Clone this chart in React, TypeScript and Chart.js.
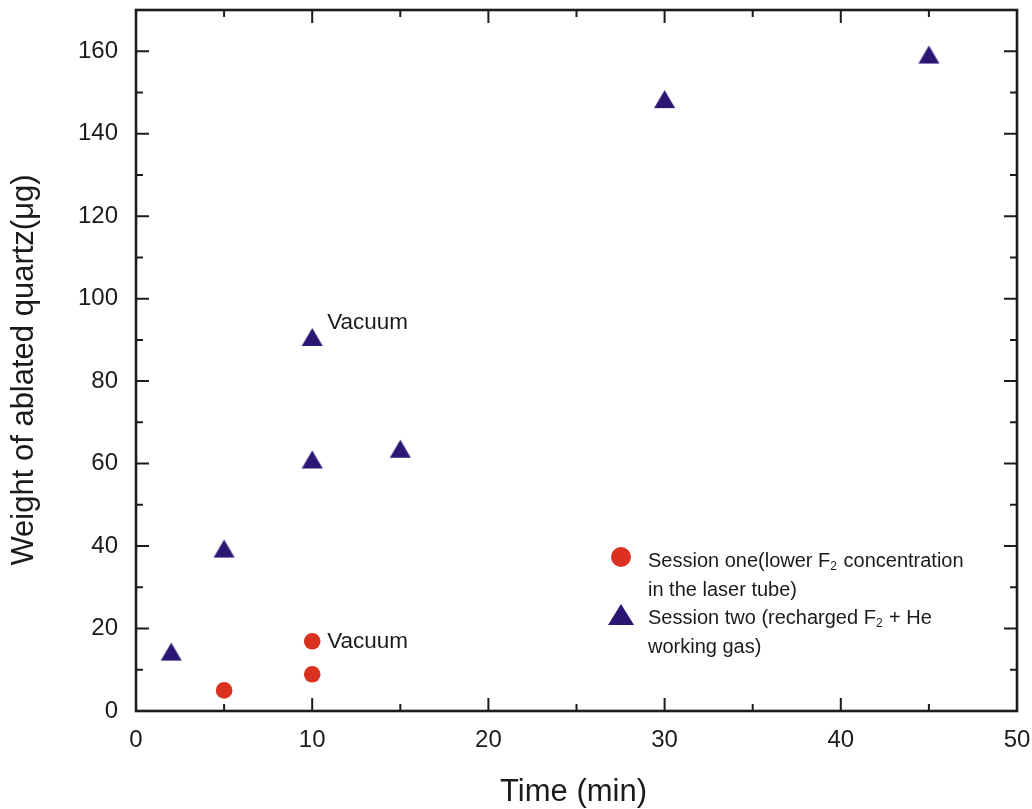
import React, { useEffect, useRef } from "react";
import { Chart, registerables } from "chart.js";

Chart.register(...registerables);

// ---- data ----
const session1X = [5, 10, 10];
const session1Y = [5, 8.9, 16.9];
const session2X = [2, 5, 10, 10, 15, 30, 45];
const session2Y = [14.4, 39.4, 61, 90.7, 63.6, 148.4, 159.2];
const session1Label = ["Session one(lower F₂ concentration", "in the laser tube)"];
const session2Label = ["Session two (recharged F₂ + He", "working gas)"];
const vacuumNotes = [
  { x: 10, y: 90.7, text: "Vacuum" },
  { x: 10, y: 16.9, text: "Vacuum" },
];
const xTitle = "Time (min)";
const yTitle = "Weight of ablated quartz(μg)";
const xMin = 0, xMax = 50, xStep = 10;
const yMin = 0, yMax = 170, yStep = 20;

// ---- styles ----
const FONT = '"Liberation Sans", Arial, Helvetica, sans-serif';
const RED = "#DA3121";
const NAVY = "#2B1773";
const INK = "#1E1A1B";
const noteOffsets = [{ dx: 15, dy: -14 }, { dx: 15, dy: 0 }];

function makeTriangle(w: number, h: number, color: string) {
  const c = document.createElement("canvas");
  c.width = Math.ceil(w) + 2;
  c.height = Math.ceil(h) + 2;
  const g = c.getContext("2d")!;
  const cx = c.width / 2, cy = c.height / 2;
  g.fillStyle = color;
  g.beginPath();
  g.moveTo(cx, cy - h / 2);
  g.lineTo(cx + w / 2, cy + h / 2);
  g.lineTo(cx - w / 2, cy + h / 2);
  g.closePath();
  g.fill();
  return c;
}

function drawRich(ctx: CanvasRenderingContext2D, text: string, x: number, y: number, size: number) {
  const parts = text.split("₂");
  let cx = x;
  parts.forEach((p, i) => {
    ctx.font = `${size}px ${FONT}`;
    ctx.fillText(p, cx, y);
    cx += ctx.measureText(p).width;
    if (i < parts.length - 1) {
      ctx.font = `${Math.round(size * 0.62)}px ${FONT}`;
      ctx.fillText("2", cx, y + 3);
      cx += ctx.measureText("2").width + 1;
    }
  });
}

const framePlugin = {
  id: "framePlugin",
  afterDraw(chart: any) {
    const { ctx, chartArea, scales } = chart;
    const { left, right, top, bottom } = chartArea;
    const xs = scales.x, ys = scales.y;
    ctx.save();
    // frame
    ctx.strokeStyle = "#1c1c1c";
    ctx.lineWidth = 2.6;
    ctx.strokeRect(left, top, right - left, bottom - top);
    // ticks
    ctx.lineWidth = 2;
    const major = 13, minor = 7;
    const xv = xs.ticks.map((t: any) => t.value);
    const yv = ys.ticks.map((t: any) => t.value);
    const xTick = (v: number, len: number) => {
      const p = xs.getPixelForValue(v);
      ctx.beginPath();
      ctx.moveTo(p, bottom); ctx.lineTo(p, bottom - len);
      ctx.moveTo(p, top); ctx.lineTo(p, top + len);
      ctx.stroke();
    };
    const yTick = (v: number, len: number) => {
      const p = ys.getPixelForValue(v);
      ctx.beginPath();
      ctx.moveTo(left, p); ctx.lineTo(left + len, p);
      ctx.moveTo(right, p); ctx.lineTo(right - len, p);
      ctx.stroke();
    };
    xv.forEach((v: number, i: number) => {
      xTick(v, major);
      if (i < xv.length - 1) xTick((v + xv[i + 1]) / 2, minor);
    });
    yv.forEach((v: number, i: number) => {
      yTick(v, major);
      const nv = i < yv.length - 1 ? yv[i + 1] : v + yStep;
      const mid = (v + nv) / 2;
      if (mid < yMax) yTick(mid, minor);
    });

    ctx.fillStyle = INK;
    // axis titles
    ctx.font = `31px ${FONT}`;
    ctx.textAlign = "center";
    ctx.textBaseline = "alphabetic";
    ctx.fillText(xTitle, (left + right) / 2 - 3, 801);
    ctx.save();
    ctx.translate(33, 370);
    ctx.rotate(-Math.PI / 2);
    ctx.fillText(yTitle, 0, 0);
    ctx.restore();

    // vacuum notes
    ctx.textAlign = "left";
    ctx.textBaseline = "middle";
    ctx.font = `22.5px ${FONT}`;
    vacuumNotes.forEach((n, i) => {
      const o = noteOffsets[i];
      ctx.fillText(n.text, xs.getPixelForValue(n.x) + o.dx, ys.getPixelForValue(n.y) + o.dy);
    });

    // legend
    ctx.textBaseline = "alphabetic";
    const lx = 621, tx = 648, lh = 28.5;
    let base = 567;
    ctx.fillStyle = RED;
    ctx.beginPath();
    ctx.arc(lx, base - 10, 10, 0, Math.PI * 2);
    ctx.fill();
    ctx.fillStyle = INK;
    session1Label.forEach((t, i) => drawRich(ctx, t, tx, base + i * lh, 20));
    base = 567 + 2 * lh;
    ctx.fillStyle = NAVY;
    ctx.beginPath();
    ctx.moveTo(lx, base - 20);
    ctx.lineTo(lx + 13, base + 1);
    ctx.lineTo(lx - 13, base + 1);
    ctx.closePath();
    ctx.fill();
    ctx.fillStyle = INK;
    session2Label.forEach((t, i) => drawRich(ctx, t, tx, base + i * lh, 20));
    ctx.restore();
  },
};

export default function App() {
  const ref = useRef<HTMLCanvasElement | null>(null);
  useEffect(() => {
    if (!ref.current) return;
    const tri = makeTriangle(21, 18, NAVY);
    const chart = new Chart(ref.current, {
      type: "scatter",
      data: {
        datasets: [
          {
            label: session1Label.join(" "),
            data: session1X.map((x, i) => ({ x, y: session1Y[i] })),
            pointStyle: "circle",
            pointRadius: 8.3,
            backgroundColor: RED,
            borderWidth: 0,
          },
          {
            label: session2Label.join(" "),
            data: session2X.map((x, i) => ({ x, y: session2Y[i] })),
            pointStyle: tri as any,
            pointRadius: 10,
            backgroundColor: NAVY,
            borderWidth: 0,
          },
        ],
      },
      options: {
        responsive: false,
        animation: false,
        events: [],
        layout: { padding: { top: 6, right: 15, left: 0, bottom: 0 } },
        plugins: { legend: { display: false }, tooltip: { enabled: false } },
        scales: {
          x: {
            type: "linear",
            min: xMin,
            max: xMax,
            grid: { display: false, drawTicks: false },
            border: { display: false },
            ticks: {
              stepSize: xStep,
              includeBounds: false,
              padding: 15,
              color: INK,
              font: { family: FONT, size: 24 },
              maxRotation: 0,
            },
            afterFit: (s: any) => {
              s.height = 98;
              s.paddingLeft = 0; s.paddingRight = 0; s.paddingTop = 0; s.paddingBottom = 0;
            },
          },
          y: {
            type: "linear",
            min: yMin,
            max: yMax,
            grid: { display: false, drawTicks: false },
            border: { display: false },
            ticks: {
              stepSize: yStep,
              includeBounds: false,
              padding: 18,
              color: INK,
              font: { family: FONT, size: 24 },
            },
            afterFit: (s: any) => {
              s.width = 136;
              s.paddingLeft = 0; s.paddingRight = 0; s.paddingTop = 0; s.paddingBottom = 0;
            },
          },
        },
      },
      plugins: [framePlugin],
    });
    return () => chart.destroy();
  }, []);
  return (
    <div style={{ position: "absolute", left: 0, top: 0, width: 1032, height: 809, background: "#fff" }}>
      <canvas ref={ref} width={1032} height={809} style={{ display: "block" }} />
    </div>
  );
}
